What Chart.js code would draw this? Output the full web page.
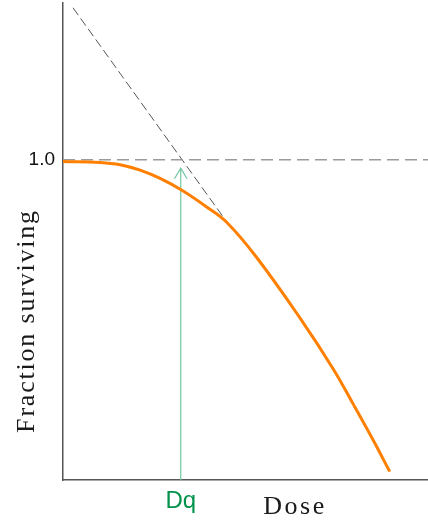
<!DOCTYPE html>
<html>
<head>
<meta charset="utf-8">
<script src="https://cdn.jsdelivr.net/npm/chart.js@4.4.1/dist/chart.umd.min.js"></script>
<style>
  html, body { margin: 0; padding: 0; background: #fff; }
  #wrap { width: 428px; height: 525px; position: relative; }
</style>
</head>
<body>
<div id="wrap"><canvas id="survivalChart"></canvas></div>
<script>
// Кривая выживаемости клеток (доза, доля выживших)
const doseValues = [0, 0.63, 0.97, 1.31, 1.65, 2.02, 2.44, 2.78, 3.29, 4.03, 4.59, 4.93, 5.27, 5.55];
const survivingValues = [0.995, 0.992, 0.985, 0.968, 0.942, 0.905, 0.853, 0.805, 0.695, 0.505, 0.347, 0.237, 0.124, 0.026];

// Экстраполяция прямого участка (пунктир)
const extrapDose = [0.17, 2.79];
const extrapSurviving = [1.475, 0.804];

// Уровень 1.0 и квазипороговая доза Dq
const unityLevel = 1.0;
const dqDose = 2.0;
const arrowBase = -0.01;
const arrowTip = 0.974;
const arrowWing = 0.941;
const arrowHalfWidth = 0.107;

const xMax = 6.2;
const yMax = 1.49;

const toPoints = (xs, ys) => xs.map((x, i) => ({ x: x, y: ys[i] }));

// Подписи осей
const axisTitles = {
    id: 'axisTitles',
    afterDraw(chart) {
        const { ctx } = chart;
        ctx.save();
        ctx.fillStyle = '#1a1a1a';
        ctx.font = '26px "Liberation Serif", "DejaVu Serif", serif';
        ctx.textAlign = 'center';
        ctx.textBaseline = 'middle';
        ctx.letterSpacing = '2.5px';
        ctx.fillText('Dose', 295, 507);
        ctx.letterSpacing = '1.8px';
        ctx.translate(27, 321);
        ctx.rotate(-Math.PI / 2);
        ctx.fillText('Fraction surviving', 0, 0);
        ctx.letterSpacing = '0px';
        ctx.restore();
    }
};

new Chart(document.getElementById('survivalChart'), {
    type: 'scatter',
    data: {
        datasets: [
            {
                data: toPoints(doseValues, survivingValues),
                showLine: true,
                borderColor: '#ff8000',
                borderWidth: 3,
                pointRadius: 0,
                tension: 0.4
            },
            {
                data: [{ x: 0, y: unityLevel }, { x: xMax, y: unityLevel }],
                showLine: true,
                borderColor: '#9a9a9a',
                borderWidth: 1.5,
                borderDash: [12, 6],
                pointRadius: 0
            },
            {
                data: toPoints(extrapDose, extrapSurviving),
                showLine: true,
                borderColor: '#555',
                borderWidth: 1,
                borderDash: [9, 4],
                pointRadius: 0
            },
            {
                data: [{ x: dqDose, y: arrowBase }, { x: dqDose, y: arrowTip }],
                showLine: true,
                borderColor: '#72c7a0',
                borderWidth: 1.2,
                pointRadius: 0
            },
            {
                data: [
                    { x: dqDose - arrowHalfWidth, y: arrowWing },
                    { x: dqDose, y: arrowTip },
                    { x: dqDose + arrowHalfWidth, y: arrowWing }
                ],
                showLine: true,
                borderColor: '#72c7a0',
                borderWidth: 1.2,
                pointRadius: 0
            }
        ]
    },
    options: {
        responsive: true,
        maintainAspectRatio: false,
        animation: false,
        layout: { padding: { top: 3, right: 0, left: 0, bottom: 0 } },
        plugins: {
            legend: { display: false },
            tooltip: { enabled: false }
        },
        scales: {
            x: {
                type: 'linear',
                min: 0,
                max: xMax,
                afterBuildTicks: (scale) => { scale.ticks = [{ value: dqDose }]; },
                afterFit: (scale) => {
                    scale.height = 45;
                    scale.paddingLeft = 0;
                    scale.paddingRight = 0;
                },
                grid: { display: false, drawTicks: false },
                border: { color: '#555', width: 1.5 },
                ticks: {
                    callback: () => 'Dq',
                    color: '#00924a',
                    font: { family: '"Liberation Sans", Arial, sans-serif', size: 24 },
                    padding: 7,
                    maxRotation: 0
                }
            },
            y: {
                type: 'linear',
                min: 0,
                max: yMax,
                afterBuildTicks: (scale) => { scale.ticks = [{ value: unityLevel }]; },
                afterFit: (scale) => {
                    scale.width = 63;
                    scale.paddingTop = 0;
                    scale.paddingBottom = 0;
                },
                grid: { display: false, drawTicks: false },
                border: { color: '#555', width: 1.5 },
                ticks: {
                    callback: (v) => v.toFixed(1),
                    color: '#111',
                    font: { family: '"Liberation Sans", Arial, sans-serif', size: 19 },
                    padding: 8
                }
            }
        }
    },
    plugins: [axisTitles]
});
</script>
</body>
</html>
